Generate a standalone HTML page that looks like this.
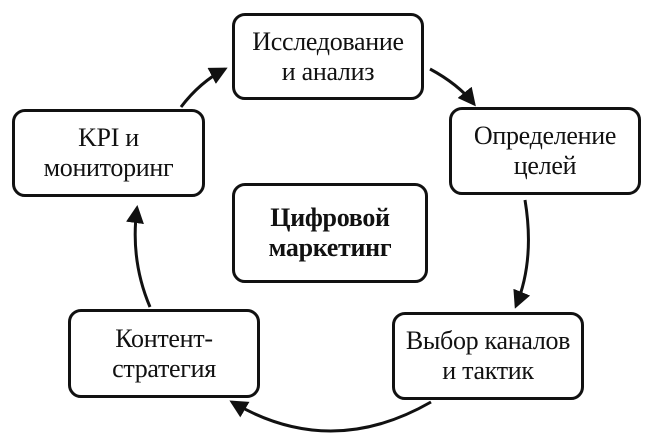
<!DOCTYPE html>
<html><head><meta charset="utf-8"><style>
html,body{margin:0;padding:0;background:#fff;}
body{width:652px;height:444px;position:relative;overflow:hidden;font-family:"Liberation Serif","DejaVu Serif",serif;color:#111;}
.b{position:absolute;box-sizing:border-box;border:3px solid #111;border-radius:13px;background:#fff;display:flex;align-items:center;justify-content:center;text-align:center;font-size:26px;line-height:30px;letter-spacing:-0.3px;}
svg{position:absolute;left:0;top:0;}
</style></head><body>
<svg width="652" height="444" viewBox="0 0 652 444">
<defs><marker id="a" markerWidth="6" markerHeight="6" refX="5" refY="3" orient="auto" markerUnits="strokeWidth"><path d="M0,0 L6,3 L0,6 Z" fill="#111"/></marker></defs>
<g fill="none" stroke="#111" stroke-width="3" marker-end="url(#a)">
<path d="M430,69 Q458,84 474,104"/>
<path d="M525,200 Q535,260 516,306"/>
<path d="M431,402 Q330,460 232,402"/>
<path d="M150,307 Q130,260 137,208"/>
<path d="M181,107 Q200,82 225,69"/>
</g>
</svg>
<div class="b" style="left:232px;top:13px;width:192px;height:87px;">Исследование<br>и анализ</div>
<div class="b" style="left:449px;top:107px;width:192px;height:88px;">Определение<br>целей</div>
<div class="b" style="left:12px;top:109px;width:193px;height:88px;">KPI и<br>мониторинг</div>
<div class="b" style="left:232px;top:183px;width:196px;height:100px;font-weight:bold;">Цифровой<br>маркетинг</div>
<div class="b" style="left:68px;top:309px;width:192px;height:89px;">Контент-<br>стратегия</div>
<div class="b" style="left:392px;top:312px;width:192px;height:88px;">Выбор каналов<br>и тактик</div>
</body></html>
